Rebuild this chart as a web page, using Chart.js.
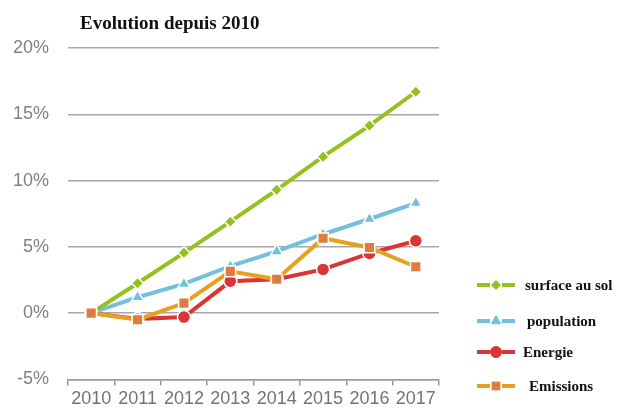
<!DOCTYPE html>
<html>
<head>
<meta charset="utf-8">
<script src="https://cdn.jsdelivr.net/npm/chart.js@4/dist/chart.umd.min.js"></script>
<style>
  html, body { margin: 0; padding: 0; background: #fff; overflow: hidden; }
  #wrap { width: 620px; height: 408px; overflow: hidden; }
</style>
</head>
<body>
<div id="wrap"><canvas id="evoChart" width="620" height="413"></canvas></div>
<script>
/* ===== DATA ===== */
const years = ["2010", "2011", "2012", "2013", "2014", "2015", "2016", "2017"];
const surface = [0, 2.25, 4.55, 6.9, 9.3, 11.8, 14.15, 16.7];
const population = [0, 1.2, 2.2, 3.55, 4.65, 5.95, 7.1, 8.3];
const energie = [0, -0.45, -0.3, 2.4, 2.55, 3.3, 4.5, 5.45];
const emissions = [0, -0.5, 0.75, 3.15, 2.55, 5.65, 4.95, 3.5];
const yTicks = [-5, 0, 5, 10, 15, 20];

const seriesNames = ["surface au sol", "population", "Energie", "Emissions"];

/* ===== TITLE + LEGEND ===== */
const titleLegend = {
  id: "titleLegend",
  afterDraw(chart) {
    const ctx = chart.ctx;
    ctx.save();
    ctx.fillStyle = "#111";
    ctx.font = "bold 19px 'Liberation Serif'";
    ctx.textBaseline = "alphabetic";
    ctx.textAlign = "left";
    ctx.fillText("Evolution depuis 2010", 80, 29);

    const rows = [290, 326, 357, 391];
    const textX = [525, 527, 523, 529];
    const markR = [4.5, 5.5, 5.5, 5.5];
    [0, 1, 2, 3].forEach((i) => {
      const ds = chart.data.datasets[i];
      const y = rows[i] - 5;
      ctx.strokeStyle = ds.borderColor;
      ctx.lineWidth = 4;
      ctx.beginPath();
      ctx.moveTo(477, y); ctx.lineTo(490, y);
      ctx.moveTo(502, y); ctx.lineTo(515, y);
      ctx.stroke();
      ctx.fillStyle = ds.pointBackgroundColor;
      ctx.strokeStyle = ds.pointBackgroundColor;
      ctx.lineWidth = 1;
      Chart.helpers.drawPoint(ctx, {
        pointStyle: ds.pointStyle, radius: markR[i], borderWidth: 1, rotation: 0
      }, 496, y);
      ctx.fillStyle = "#111";
      ctx.font = "bold 15px 'Liberation Serif'";
      ctx.fillText(ds.label, textX[i], rows[i]);
    });
    ctx.restore();
  }
};

/* ===== CHART ===== */
new Chart(document.getElementById("evoChart"), {
  type: "line",
  data: {
    labels: years,
    datasets: [
      {
        label: seriesNames[0], data: surface, order: 2,
        borderColor: "#95c11f", pointBackgroundColor: "#95c11f",
        pointStyle: "rectRot", pointRadius: 6,
      },
      {
        label: seriesNames[1], data: population, order: 3,
        borderColor: "#72c0de", pointBackgroundColor: "#72c0de",
        pointStyle: "triangle", pointRadius: 7,
      },
      {
        label: seriesNames[2], data: energie, order: 1,
        borderColor: "#db3434", pointBackgroundColor: "#db3434",
        pointStyle: "circle", pointRadius: 6.5,
      },
      {
        label: seriesNames[3], data: emissions, order: 0,
        borderColor: "#e8a020", pointBackgroundColor: "#e07b40",
        pointStyle: "rect", pointRadius: 7.5,
      },
    ].map(d => Object.assign({
      borderWidth: 4,
      pointBorderColor: "#fff",
      pointBorderWidth: 1.5,
      tension: 0,
      fill: false,
    }, d)),
  },
  options: {
    responsive: false,
    animation: false,
    layout: { padding: { top: 48, right: 181, bottom: 0, left: 0 } },
    plugins: { legend: { display: false }, title: { display: false }, tooltip: { enabled: false } },
    scales: {
      x: {
        offset: true,
        grid: {
          offset: true, drawOnChartArea: false, drawTicks: true,
          tickLength: 6, color: "#9a9a9a", lineWidth: 1.5,
        },
        border: { display: true, color: "#9a9a9a", width: 1.5 },
        ticks: { color: "#737373", padding: 3, font: { family: "Liberation Sans", size: 18, lineHeight: 1.2 } },
      },
      y: {
        min: -5, max: 20,
        afterFit: s => { s.width = 68; },
        afterBuildTicks: s => { s.ticks = yTicks.map(v => ({ value: v })); },
        grid: { drawTicks: false, color: "#a8a8a8", lineWidth: 1.5 },
        border: { display: false },
        ticks: {
          color: "#808080", padding: 19,
          font: { family: "Liberation Sans", size: 18 },
          callback: v => v + "%",
        },
      },
    },
  },
  plugins: [titleLegend],
});
</script>
</body>
</html>
